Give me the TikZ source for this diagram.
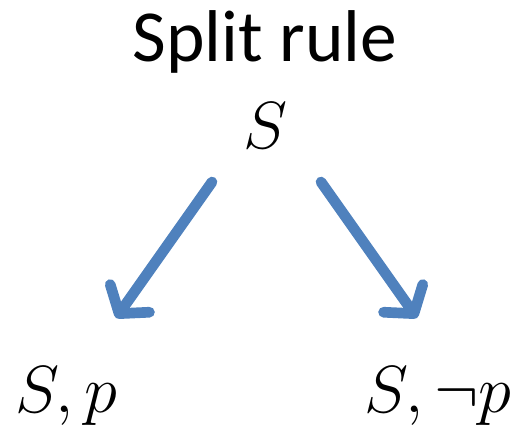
\RequirePackage{fix-cm}
\documentclass[tikz,border=0pt]{standalone}
\usepackage{amsmath, amssymb}
\usepackage{fontspec}
\setmainfont{Carlito}
\usepackage{tikz}
\usetikzlibrary{arrows.meta}
\definecolor{ruleBlue}{RGB}{79, 129, 189}

\begin{document}
\begin{tikzpicture}[x=0.75pt, y=-0.75pt,
    splitarrow/.style={ruleBlue, line width=8pt, line cap=round,
      -{Straight Barb[length=14pt, width=36pt, round]}},
    formula/.style={inner sep=0pt, font=\fontsize{50}{60}\selectfont}]
  \useasboundingbox (0,0) rectangle (531,431);
  \node[inner sep=0pt, anchor=base, font=\fontsize{55}{66}\selectfont] (title) at (265,62) {Split rule};
  \node[formula, anchor=base] (S) at (266,148) {$S$};
  \node[formula, anchor=base west] (Sp) at (15,412) {$S,p$};
  \node[formula, anchor=base east] (Snp) at (512,412) {$S,\neg p$};
  % arrow ends
  \coordinate (ltop) at (212,182);
  \coordinate (lbot) at (116,318);
  \coordinate (rtop) at (321,182);
  \coordinate (rbot) at (417,318);
  \draw[splitarrow] (ltop) -- (lbot);
  \draw[splitarrow] (rtop) -- (rbot);
\end{tikzpicture}
\end{document}
